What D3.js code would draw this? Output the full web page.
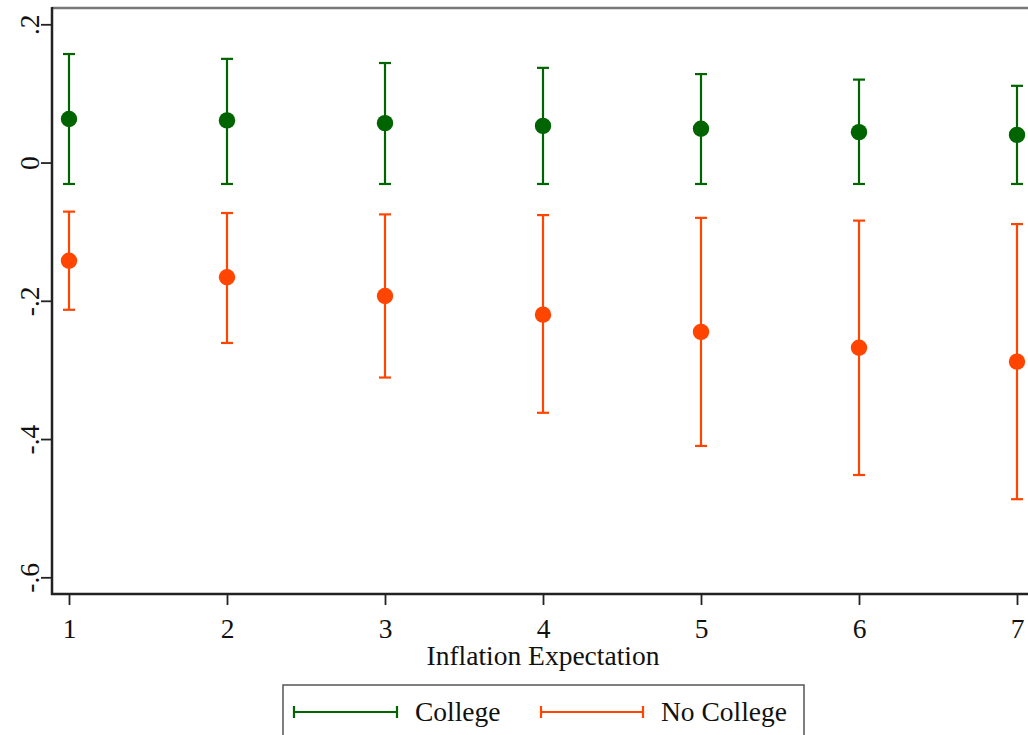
<!DOCTYPE html>
<html>
<head>
<meta charset="utf-8">
<script src="https://cdn.jsdelivr.net/npm/d3@7"></script>
<style>
  body { margin: 0; background: #fff; }
  text { font-family: "Liberation Serif", "Times New Roman", serif; fill: #111; }
</style>
</head>
<body>
<div id="chart"></div>
<script>
// inflation expectation categories
var categories = [1, 2, 3, 4, 5, 6, 7];

// College: point estimate and 95% CI
var collegeEst   = [0.063, 0.061, 0.057, 0.053, 0.049, 0.044, 0.040];
var collegeLow   = [-0.031, -0.031, -0.031, -0.031, -0.031, -0.031, -0.031];
var collegeHigh  = [0.157, 0.150, 0.144, 0.137, 0.128, 0.120, 0.111];

// No College: point estimate and 95% CI
var noCollEst    = [-0.142, -0.166, -0.193, -0.220, -0.245, -0.268, -0.288];
var noCollLow    = [-0.213, -0.261, -0.311, -0.362, -0.410, -0.452, -0.487];
var noCollHigh   = [-0.071, -0.073, -0.075, -0.076, -0.080, -0.084, -0.089];

var yTicks = [0.2, 0, -0.2, -0.4, -0.6];
var yTickLabels = [".2", "0", "-.2", "-.4", "-.6"];

var series = [
	{name: "College", color: "#006400", est: collegeEst, low: collegeLow, high: collegeHigh},
	{name: "No College", color: "#ff4500", est: noCollEst, low: noCollLow, high: noCollHigh}
];

var W = 1028, H = 735;
var plot = {left: 52, right: 1034, top: 8, bottom: 594};
var fontSize = "27.5px";

var x = d3.scaleLinear().domain([1, 7]).range([69, 1017]);
var y = d3.scaleLinear().domain([-0.6, 0.2]).range([577.3, 24.3]);

var svg = d3.select("#chart").append("svg")
	.attr("width", W)
	.attr("height", H);

// frame: top line (grey) + axes
svg.append("line")
	.attr("x1", plot.left).attr("x2", plot.right)
	.attr("y1", plot.top).attr("y2", plot.top)
	.attr("stroke", "#777").attr("stroke-width", 2.5);

// y axis
var yAxis = svg.append("g")
	.attr("transform", "translate(" + plot.left + ",0)")
	.call(d3.axisLeft(y).tickValues(yTicks).tickSize(11)
		.tickFormat(function(d, i) { return yTickLabels[i]; }));
yAxis.select(".domain").remove();
yAxis.selectAll(".tick line").attr("stroke", "#222").attr("stroke-width", 1.8);
yAxis.selectAll(".tick text")
	.attr("x", null).attr("dy", null)
	.attr("text-anchor", "middle")
	.attr("transform", "translate(-22,0) rotate(-90) translate(0,9)")
	.style("font-size", fontSize)
	.style("font-family", "Liberation Serif");

// x axis
var xAxis = svg.append("g")
	.attr("transform", "translate(0," + plot.bottom + ")")
	.call(d3.axisBottom(x).tickValues(categories).tickSize(11).tickFormat(d3.format("d")));
xAxis.select(".domain").remove();
xAxis.selectAll(".tick line").attr("stroke", "#222").attr("stroke-width", 1.8);
xAxis.selectAll(".tick text")
	.attr("y", 44).attr("dy", null)
	.style("font-size", fontSize)
	.style("font-family", "Liberation Serif");

svg.append("line")
	.attr("x1", plot.left).attr("x2", plot.left)
	.attr("y1", plot.top - 1).attr("y2", plot.bottom + 1)
	.attr("stroke", "#222").attr("stroke-width", 2.5);
svg.append("line")
	.attr("x1", plot.left - 1).attr("x2", plot.right)
	.attr("y1", plot.bottom).attr("y2", plot.bottom)
	.attr("stroke", "#222").attr("stroke-width", 2.5);

// axis title
svg.append("text")
	.attr("x", (plot.left + plot.right) / 2)
	.attr("y", 665)
	.attr("text-anchor", "middle")
	.style("font-size", fontSize)
	.text("Inflation Expectation");

// error bars + points
var capW = 6;
series.forEach(function(s) {
	var g = svg.append("g");
	var rows = categories.map(function(c, i) {
		return {x: c, est: s.est[i], low: s.low[i], high: s.high[i]};
	});
	g.selectAll("line.bar").data(rows).enter().append("line")
		.attr("x1", function(d) { return x(d.x); })
		.attr("x2", function(d) { return x(d.x); })
		.attr("y1", function(d) { return y(d.low); })
		.attr("y2", function(d) { return y(d.high); })
		.attr("stroke", s.color).attr("stroke-width", 2.2);
	["low", "high"].forEach(function(k) {
		g.selectAll("line.cap-" + k).data(rows).enter().append("line")
			.attr("x1", function(d) { return x(d.x) - capW; })
			.attr("x2", function(d) { return x(d.x) + capW; })
			.attr("y1", function(d) { return y(d[k]); })
			.attr("y2", function(d) { return y(d[k]); })
			.attr("stroke", s.color).attr("stroke-width", 2.2);
	});
	g.selectAll("circle").data(rows).enter().append("circle")
		.attr("cx", function(d) { return x(d.x); })
		.attr("cy", function(d) { return y(d.est); })
		.attr("r", 8.2)
		.attr("fill", s.color);
});

// legend
var legend = svg.append("g");
legend.append("rect")
	.attr("x", 283).attr("y", 685)
	.attr("width", 521).attr("height", 52)
	.attr("fill", "#fff").attr("stroke", "#555").attr("stroke-width", 1.5);

var legendPos = [{x1: 294, x2: 397, tx: 415}, {x1: 541, x2: 643, tx: 661}];
series.forEach(function(s, i) {
	var p = legendPos[i], ly = 712;
	legend.append("line")
		.attr("x1", p.x1).attr("x2", p.x2).attr("y1", ly).attr("y2", ly)
		.attr("stroke", s.color).attr("stroke-width", 2.2);
	[p.x1, p.x2].forEach(function(cx) {
		legend.append("line")
			.attr("x1", cx).attr("x2", cx).attr("y1", ly - 6).attr("y2", ly + 6)
			.attr("stroke", s.color).attr("stroke-width", 2.2);
	});
	legend.append("text")
		.attr("x", p.tx).attr("y", 721)
		.style("font-size", fontSize)
		.text(s.name);
});
</script>
</body>
</html>
